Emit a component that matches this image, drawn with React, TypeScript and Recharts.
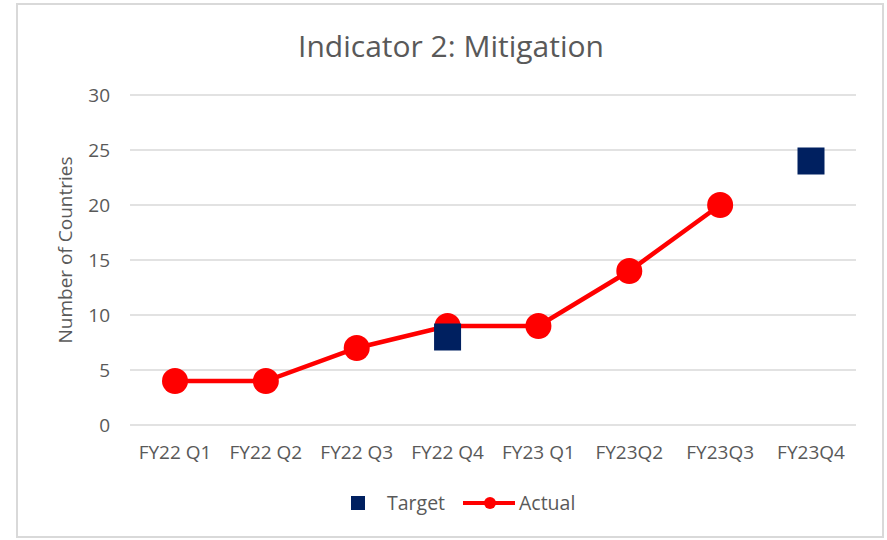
import React from 'react';
import { ComposedChart, Line, XAxis, YAxis, CartesianGrid } from 'recharts';

const categories = ['FY22 Q1', 'FY22 Q2', 'FY22 Q3', 'FY22 Q4', 'FY23 Q1', 'FY23Q2', 'FY23Q3', 'FY23Q4'];
const actualValues: (number | null)[] = [4, 4, 7, 9, 9, 14, 20, null];
const targetValues: (number | null)[] = [null, null, null, 8, null, null, null, 24];
const yTicks = [0, 5, 10, 15, 20, 25, 30];

const data = categories.map((c, i) => ({ cat: c, actual: actualValues[i], target: targetValues[i] }));

const FONT = '"Open Sans", "Noto Sans", sans-serif';
const GREY = '#595959';

const SquareDot = (props: any) => {
  const { cx, cy, value } = props;
  if (value === null || value === undefined || cx == null || cy == null) return <g key={props.key} />;
  return <rect key={props.key} x={cx - 13.5} y={cy - 13.5} width={27} height={27} fill="#002060" />;
};

export default function App() {
  return (
    <div style={{ position: 'fixed', left: 0, top: 0, width: 887, height: 540, background: '#fff', fontFamily: FONT }}>
      <div style={{ position: 'absolute', left: 16, top: 3, width: 868, height: 535, border: '2px solid #d9d9d9', boxSizing: 'border-box' }} />
      <div style={{ position: 'absolute', left: 0, top: 26, width: 902, textAlign: 'center', fontSize: 30, color: GREY, lineHeight: '40px' }}>
        Indicator 2: Mitigation
      </div>
      <div style={{ position: 'absolute', left: 65, top: 250, width: 0, height: 0 }}>
        <div style={{ position: 'absolute', transform: 'translate(-50%, -50%) rotate(-90deg)', whiteSpace: 'nowrap', fontSize: 19, color: GREY }}>
          Number of Countries
        </div>
      </div>
      <div style={{ position: 'absolute', left: 0, top: 0 }}>
        <ComposedChart width={887} height={540} data={data} margin={{ top: 95, right: 31, bottom: 75, left: 60 }}>
          <CartesianGrid vertical={false} stroke="#d9d9d9" strokeWidth={1.5} />
          <XAxis dataKey="cat" axisLine={false} tickLine={false} tickMargin={15} height={40}
            padding={{ left: 45, right: 45 }}
            tick={{ fill: GREY, fontSize: 19, fontFamily: FONT }} interval={0} />
          <YAxis domain={[0, 30]} ticks={yTicks} axisLine={false} tickLine={false} width={70} tickMargin={14}
            tick={{ fill: GREY, fontSize: 19, fontFamily: FONT }} />
          <Line dataKey="actual" stroke="#ff0000" strokeWidth={4.5} isAnimationActive={false}
            dot={{ r: 13, fill: '#ff0000', stroke: 'none' }} activeDot={false} />
          <Line dataKey="target" stroke="none" isAnimationActive={false} dot={<SquareDot />} activeDot={false} />
        </ComposedChart>
      </div>
      <div style={{ position: 'absolute', left: 351, top: 496, width: 14, height: 14, background: '#002060' }} />
      <div style={{ position: 'absolute', left: 387, top: 490, fontSize: 19.5, color: GREY, lineHeight: '26px' }}>Target</div>
      <svg style={{ position: 'absolute', left: 463, top: 493 }} width={54} height={20}>
        <line x1={0} y1={10} x2={52} y2={10} stroke="#ff0000" strokeWidth={4} />
        <circle cx={27} cy={10} r={6} fill="#ff0000" />
      </svg>
      <div style={{ position: 'absolute', left: 519, top: 490, fontSize: 19.5, color: GREY, lineHeight: '26px' }}>Actual</div>
    </div>
  );
}
